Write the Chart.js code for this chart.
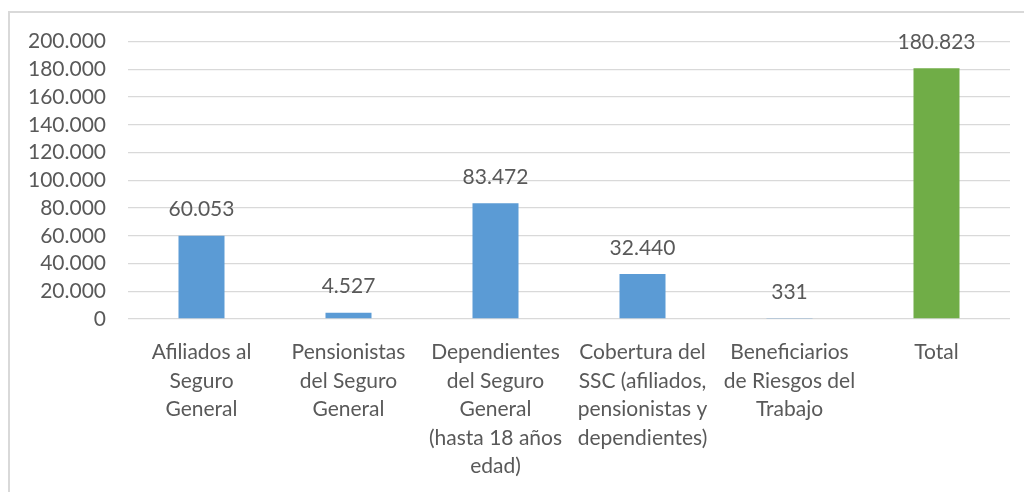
<!DOCTYPE html>
<html>
<head>
<meta charset="utf-8">
<script src="https://cdn.jsdelivr.net/npm/chart.js@4.4.1/dist/chart.umd.min.js"></script>
<style>
  html, body { margin: 0; padding: 0; background: #fff; overflow: hidden; }
  #box {
    position: absolute; left: 8px; top: 11px; width: 1016px; height: 481px;
    border-top: 2px solid #d9d9d9; border-left: 2px solid #d9d9d9;
  }
  #wrap { position: absolute; left: 0; top: -6px; width: 1014px; height: 485px; }
</style>
</head>
<body>
<div id="box"><div id="wrap"><canvas id="myChart"></canvas></div></div>
<script>
// categorias (cada una partida en lineas como en el original)
const categorias = [
  ["Afiliados al", "Seguro", "General"],
  ["Pensionistas", "del Seguro", "General"],
  ["Dependientes", "del Seguro", "General", "(hasta 18 años", "edad)"],
  ["Cobertura del", "SSC (afiliados,", "pensionistas y", "dependientes)"],
  ["Beneficiarios", "de Riesgos del", "Trabajo"],
  ["Total"]
];
const valores = [60053, 4527, 83472, 32440, 331, 180823];
const ejeY = { min: 0, max: 200000, paso: 20000 };

const azul = "#5B9BD5";
const verde = "#70AD47";
const gris = "#595959";
const fuente = "Lato, 'Open Sans', sans-serif";

function formato(n) {
  return String(n).replace(/\B(?=(\d{3})+(?!\d))/g, ".");
}

// etiquetas de valor encima de cada barra
const etiquetas = {
  id: "etiquetas",
  afterDatasetsDraw(chart) {
    const ctx = chart.ctx;
    const meta = chart.getDatasetMeta(0);
    ctx.save();
    ctx.font = "21px " + fuente;
    ctx.fillStyle = gris;
    ctx.textAlign = "center";
    ctx.textBaseline = "middle";
    meta.data.forEach((bar, i) => {
      ctx.fillText(formato(valores[i]), bar.x, bar.y - 26);
    });
    ctx.restore();
  }
};

new Chart("myChart", {
  type: "bar",
  data: {
    labels: categorias,
    datasets: [{
      data: valores,
      backgroundColor: categorias.map(c => c[0] === "Total" ? verde : azul),
      barPercentage: 0.313,
      categoryPercentage: 1
    }]
  },
  options: {
    responsive: true,
    maintainAspectRatio: false,
    animation: false,
    layout: { padding: { top: 16, right: 14, left: 0, bottom: 0 } },
    plugins: { legend: { display: false }, tooltip: { enabled: false } },
    scales: {
      x: {
        grid: { display: false },
        border: { display: false },
        afterFit(scale) { scale.height = 173; },
        ticks: {
          color: gris,
          font: { family: fuente, size: 21, lineHeight: 1.36 },
          maxRotation: 0,
          autoSkip: false,
          padding: 11
        }
      },
      y: {
        min: ejeY.min,
        max: ejeY.max,
        afterFit(scale) { scale.width = 118; },
        grid: { color: "#d9d9d9", drawTicks: false, lineWidth: 1.3 },
        border: { display: false },
        ticks: {
          stepSize: ejeY.paso,
          autoSkip: false,
          color: gris,
          padding: 22,
          font: { family: fuente, size: 21 },
          callback: v => formato(v)
        }
      }
    }
  },
  plugins: [etiquetas]
});
</script>
</body>
</html>
